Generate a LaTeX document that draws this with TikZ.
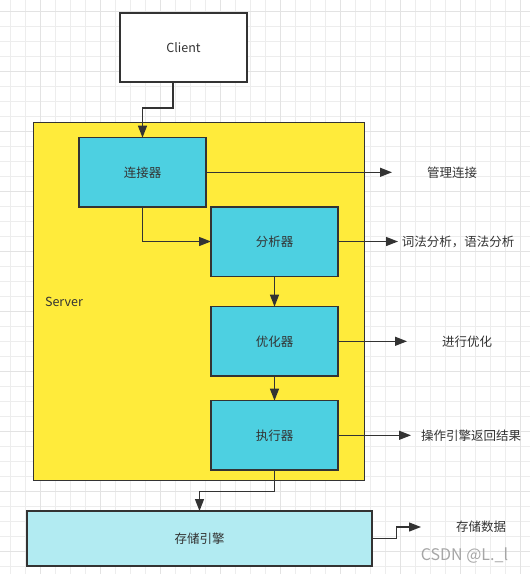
\documentclass[tikz,border=0pt]{standalone}
\usepackage{fontspec}
\setmainfont{Noto Sans CJK SC}
\usetikzlibrary{arrows.meta}

\definecolor{ink}{HTML}{333333}
\definecolor{serveryellow}{HTML}{FFEB3B}
\definecolor{stagecyan}{HTML}{4DD0E1}
\definecolor{enginecyan}{HTML}{B2EBF2}

\begin{document}
\begin{tikzpicture}[
	x=1pt,y=-1pt,
	font=\fontsize{12.5}{15}\selectfont,text=ink,
	gridminor/.style={draw=black!7,line width=0.8pt},
	gridmajor/.style={draw=black!11,line width=1pt},
	box/.style={draw=ink,line width=1.3pt,rectangle,inner sep=0pt,outer sep=0pt},
	stage/.style={box,fill=stagecyan,minimum width=127,minimum height=69.3},
	note/.style={inner sep=0pt,outer sep=0pt,minimum width=120,minimum height=16},
	flow/.style={draw=ink,line width=1.3pt,-{Triangle[length=12pt,width=9pt]}}
	]
	\useasboundingbox (0,0) rectangle (530,574);
	\fill[white] (0,0) rectangle (530,574);
	\foreach \gx in {10,25,...,525}
		\draw[gridminor] (\gx,0) -- (\gx,574);
	\foreach \gy in {11.7,26.7,...,570}
		\draw[gridminor] (0,\gy) -- (530,\gy);
	\foreach \gx in {40,100,...,520}
		\draw[gridmajor] (\gx,0) -- (\gx,574);
	\foreach \gy in {11.7,71.7,...,560}
		\draw[gridmajor] (0,\gy) -- (530,\gy);

	\node[box,fill=white,minimum width=127,minimum height=69] (client) at (183.5,47.5) {Client};
	\node[box,fill=serveryellow,minimum width=331,minimum height=358] (server) at (199.3,301.8) {};
	\node (serverlabel) at (64,302) {Server};
	\node[stage] (conn) at (142.5,172.3) {连接器};
	\node[stage] (ana) at (274.5,241.5) {分析器};
	\node[stage] (opt) at (274.5,341.3) {优化器};
	\node[stage] (exe) at (274.5,435.3) {执行器};
	\node[box,fill=enginecyan,minimum width=345,minimum height=55] (store) at (199.5,538.5) {存储引擎};

	\node[note] (mgr) at (452,172.3) {管理连接};
	\node[note] (lex) at (458,241.5) {词法分析，语法分析};
	\node[note] (tune) at (467,341.3) {进行优化};
	\node[note] (ret) at (471,435.3) {操作引擎返回结果};
	\node[note] (keep) at (481,527) {存储数据};
	\node[text=black!35,font=\fontsize{16}{18}\selectfont] (mark) at (464.5,556) {CSDN @L.\_l};

	\draw[flow] ([xshift=-10.5]client.south) -- ++(0,26) -| (conn.north);
	\draw[flow] (conn.east) -- (mgr.west);
	\draw[flow] (conn.south) |- (ana.west);
	\draw[flow] (ana.east) -- (lex.west);
	\draw[flow] (ana.south) -- (opt.north);
	\draw[flow] (opt.east) -- (tune.west);
	\draw[flow] (opt.south) -- (exe.north);
	\draw[flow] (exe.east) -- (ret.west);
	\draw[flow] (exe.south) -- ++(0,21.7) -| (store.north);
	\draw[flow] (store.east) -- ++(24.5,0) |- (keep.west);
\end{tikzpicture}
\end{document}
